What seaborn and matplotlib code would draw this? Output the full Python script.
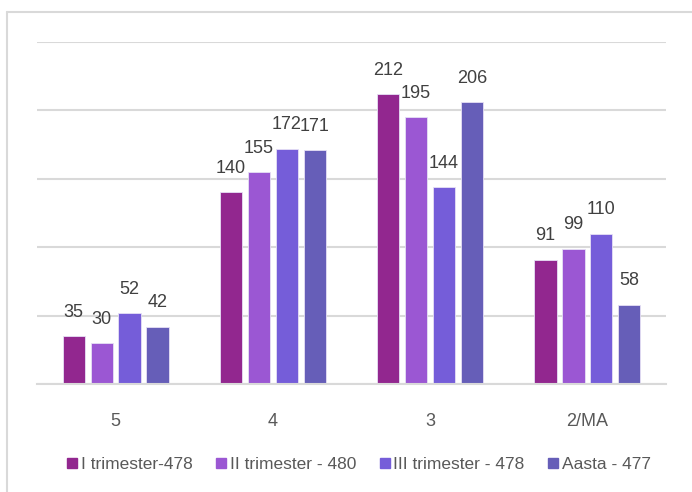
import matplotlib
matplotlib.use("Agg")
import matplotlib.pyplot as plt
import seaborn as sns
import pandas as pd
from matplotlib.lines import Line2D
from matplotlib import font_manager

categories = ["5", "4", "3", "2/MA"]
series_names = ["I trimester-478", "II trimester - 480", "III trimester - 478", "Aasta - 477"]
values_I = [35, 140, 212, 91]
values_II = [30, 155, 195, 99]
values_III = [52, 172, 144, 110]
values_Aasta = [42, 171, 206, 58]
colors = ["#92278F", "#9B57D3", "#755DD9", "#665EB8"]

sns.set_theme(style="white")
avail = {f.name for f in font_manager.fontManager.ttflist}
fam = "Liberation Sans Narrow" if "Liberation Sans Narrow" in avail else "Liberation Sans"
plt.rcParams['font.family'] = [fam, 'DejaVu Sans']

rows = []
for name, vals in zip(series_names, [values_I, values_II, values_III, values_Aasta]):
    for c, v in zip(categories, vals):
        rows.append({"cat": c, "series": name, "value": v})
df = pd.DataFrame(rows)

fig = plt.figure(figsize=(6.92, 4.92), dpi=100)
ax = fig.add_axes([37/692, 1-384/492, (666-37)/692, (384-42)/492])

sns.barplot(data=df, x="cat", y="value", hue="series", order=categories,
            hue_order=series_names, palette=colors, width=0.71, gap=0.2,
            edgecolor="#E6E0F5", linewidth=0.6, ax=ax, legend=False, saturation=1)

ax.set_xlim(-0.5, 3.5)
ax.set_ylim(0, 250)
ax.set_yticks([0, 50, 100, 150, 200, 250])
ax.yaxis.grid(True, color="#D9D9D9", linewidth=1.5)
ax.set_axisbelow(True)
ax.tick_params(axis="y", left=False, labelleft=False)
ax.tick_params(axis="x", bottom=False, labelsize=13, labelcolor="#595959", pad=15)
ax.set_xlabel("")
ax.set_ylabel("")
for s in ["left", "right", "top"]:
    ax.spines[s].set_visible(False)
ax.spines["bottom"].set_color("#D9D9D9")
ax.spines["bottom"].set_linewidth(1.5)

for cont in ax.containers:
    ax.bar_label(cont, padding=11, fontsize=13, color="#404040")

handles = [Line2D([0], [0], marker="s", linestyle="", markersize=7.5,
                  markerfacecolor=c, markeredgecolor=c) for c in colors]
fig.legend(handles, series_names, loc="center", bbox_to_anchor=(357/692, 1-464/492),
           ncol=4, frameon=False, fontsize=12.5, labelcolor="#595959",
           handletextpad=0.0, columnspacing=1.15, handlelength=1.0)

fig.add_artist(Line2D([7/692, 1], [1-12/492, 1-12/492], color="#D9D9D9", linewidth=1.5))
fig.add_artist(Line2D([7/692, 7/692], [0, 1-12/492], color="#D9D9D9", linewidth=1.5))

fig.savefig("out.png", dpi=100, facecolor="white")
